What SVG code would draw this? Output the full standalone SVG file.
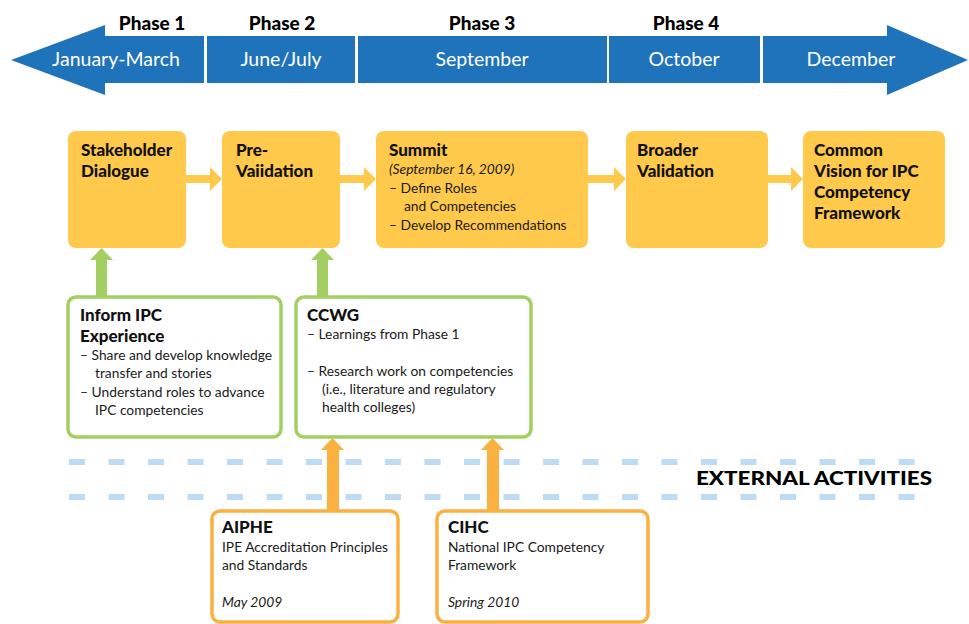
<svg xmlns="http://www.w3.org/2000/svg" width="969" height="624" viewBox="0 0 969 624">
<style>
  .band { fill: #1F73BA; }
  .month { font-family: Lato, "Open Sans", "Liberation Sans", sans-serif; font-size: 19.5px; fill: #FFFFFF; text-anchor: middle; }
  .phase { font-family: Lato, "Open Sans", "Liberation Sans", sans-serif; font-size: 19px; font-weight: 900; fill: #000000; text-anchor: middle; }
  .ybox { fill: #FFC94B; }
  .gbox { fill: #FFFFFF; stroke: #A3CF62; stroke-width: 3.5; }
  .obox { fill: #FFFFFF; stroke: #FBB040; stroke-width: 3.5; }
  .title { font-family: Lato, "Open Sans", "Liberation Sans", sans-serif; font-size: 17px; font-weight: 900; fill: #111111; }
  .body { font-family: Lato, "Open Sans", "Liberation Sans", sans-serif; font-size: 13.8px; fill: #1a1a1a; }
  .ital { font-style: italic; }
  .yarrow { fill: #FFC94B; }
  .garrow { fill: #A3CF62; }
  .oarrow { fill: #FBB040; }
  .dash { stroke: #BDDCF3; stroke-width: 6; stroke-dasharray: 16 23.5; fill: none; }
  .ext { font-family: Lato, "Open Sans", "Liberation Sans", sans-serif; font-size: 18.5px; font-weight: 900; fill: #000000; }
</style>

<!-- Timeline -->
<g id="timeline">
  <g id="seg-jan">
    <polygon class="band" points="11,60 105,25 105,36 204,36 204,83 105,83 105,95"/>
    <text class="month" x="116" y="66">January-March</text>
  </g>
  <g id="seg-jun">
    <rect class="band" x="207" y="36" width="148" height="47"/>
    <text class="month" x="281" y="66">June/July</text>
  </g>
  <g id="seg-sep">
    <rect class="band" x="358" y="36" width="249" height="47"/>
    <text class="month" x="482" y="66">September</text>
  </g>
  <g id="seg-oct">
    <rect class="band" x="609" y="36" width="151" height="47"/>
    <text class="month" x="684" y="66">October</text>
  </g>
  <g id="seg-dec">
    <polygon class="band" points="763,36 887,36 887,25 968,60 887,95 887,83 763,83"/>
    <text class="month" x="851" y="66">December</text>
  </g>
  <g id="phases">
    <text class="phase" x="152" y="30">Phase 1</text>
    <text class="phase" x="282" y="30">Phase 2</text>
    <text class="phase" x="482" y="30">Phase 3</text>
    <text class="phase" x="686" y="30">Phase 4</text>
  </g>
</g>

<!-- Dashed separators -->
<g id="separator">
  <line class="dash" x1="69" y1="462" x2="915" y2="462"/>
  <line class="dash" x1="69" y1="497" x2="915" y2="497"/>
  <text class="ext" x="696" y="485" textLength="236" lengthAdjust="spacingAndGlyphs">EXTERNAL ACTIVITIES</text>
</g>

<!-- Connectors -->
<g id="connectors">
  <polygon class="yarrow" points="186,175 210,175 210,167 222,179 210,191 210,183 186,183"/>
  <polygon class="yarrow" points="340,175 364,175 364,167 376,179 364,191 364,183 340,183"/>
  <polygon class="yarrow" points="588,175 614,175 614,167 626,179 614,191 614,183 588,183"/>
  <polygon class="yarrow" points="768,175 791,175 791,167 803,179 791,191 791,183 768,183"/>
  <polygon class="garrow" points="96,297 96,260 90,260 101.5,248 113,260 107,260 107,297"/>
  <polygon class="garrow" points="317,297 317,260 311,260 322.5,248 334,260 328,260 328,297"/>
  <polygon class="oarrow" points="327,511 327,450 321,450 332.5,438 344,450 339,450 339,511"/>
  <polygon class="oarrow" points="487,511 487,450 481,450 492.5,438 504,450 499,450 499,511"/>
</g>

<!-- Yellow process boxes -->
<g id="stakeholder">
  <rect class="ybox" x="68" y="131" width="118" height="117" rx="8"/>
  <text class="title" x="81" y="156">Stakeholder</text>
  <text class="title" x="81" y="177">Dialogue</text>
</g>
<g id="prevalidation">
  <rect class="ybox" x="222" y="131" width="118" height="117" rx="8"/>
  <text class="title" x="236" y="156">Pre-</text>
  <text class="title" x="236" y="177">Vaiidation</text>
</g>
<g id="summit">
  <rect class="ybox" x="376" y="131" width="212" height="117" rx="8"/>
  <text class="title" x="389" y="156">Summit</text>
  <text class="body ital" x="389" y="174">(September 16, 2009)</text>
  <text class="body" x="389" y="193">– Define Roles</text>
  <text class="body" x="404" y="211">and Competencies</text>
  <text class="body" x="389" y="230">– Develop Recommendations</text>
</g>
<g id="broader">
  <rect class="ybox" x="626" y="131" width="142" height="117" rx="8"/>
  <text class="title" x="637" y="156">Broader</text>
  <text class="title" x="637" y="177">Validation</text>
</g>
<g id="common">
  <rect class="ybox" x="803" y="131" width="142" height="117" rx="8"/>
  <text class="title" x="814" y="156">Common</text>
  <text class="title" x="814" y="177">Vision for IPC</text>
  <text class="title" x="814" y="198">Competency</text>
  <text class="title" x="814" y="219">Framework</text>
</g>

<!-- Green boxes -->
<g id="inform">
  <rect class="gbox" x="68" y="297" width="213" height="140" rx="8"/>
  <text class="title" x="80" y="321">Inform IPC</text>
  <text class="title" x="80" y="342">Experience</text>
  <text class="body" x="80" y="360">– Share and develop knowledge</text>
  <text class="body" x="95" y="378">transfer and stories</text>
  <text class="body" x="80" y="397">– Understand roles to advance</text>
  <text class="body" x="95" y="415">IPC competencies</text>
</g>
<g id="ccwg">
  <rect class="gbox" x="296" y="297" width="235" height="140" rx="8"/>
  <text class="title" x="307" y="321">CCWG</text>
  <text class="body" x="307" y="339">– Learnings from Phase 1</text>
  <text class="body" x="307" y="376">– Research work on competencies</text>
  <text class="body" x="322" y="394">(i.e., literature and regulatory</text>
  <text class="body" x="322" y="412">health colleges)</text>
</g>

<!-- Orange boxes -->
<g id="aiphe">
  <rect class="obox" x="212" y="511" width="186" height="111" rx="8"/>
  <text class="title" x="222" y="533">AIPHE</text>
  <text class="body" x="222" y="552">IPE Accreditation Principles</text>
  <text class="body" x="222" y="570">and Standards</text>
  <text class="body ital" x="222" y="607">May 2009</text>
</g>
<g id="cihc">
  <rect class="obox" x="437" y="511" width="211" height="111" rx="8"/>
  <text class="title" x="448" y="533">CIHC</text>
  <text class="body" x="448" y="552">National IPC Competency</text>
  <text class="body" x="448" y="570">Framework</text>
  <text class="body ital" x="448" y="607">Spring 2010</text>
</g>
</svg>
